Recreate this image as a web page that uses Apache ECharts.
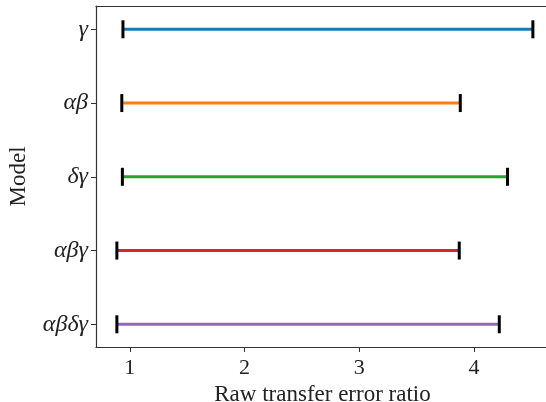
<!DOCTYPE html>
<html>
<head>
<meta charset="utf-8">
<script src="https://cdn.jsdelivr.net/npm/echarts@6/dist/echarts.min.js"></script>
<style>html,body{margin:0;padding:0;background:#fff}#c{width:546px;height:402px}</style>
</head>
<body>
<div id="c"></div>
<script>
const models = ['γ', 'αβ', 'δγ', 'αβγ', 'αβδγ'];
const lowValues = [0.94, 0.93, 0.935, 0.887, 0.887];
const highValues = [4.514, 3.881, 4.293, 3.872, 4.221];
const colors = ['#1f77b4', '#ff7f0e', '#2ca02c', '#d62728', '#9467bd'];
const xTicks = [1, 2, 3, 4];
const yTicks = [0, 1, 2, 3, 4];

const data = models.map((m, i) => [i, lowValues[i], highValues[i]]);
const chart = echarts.init(document.getElementById('c'));
const fontFam = '"Liberation Serif", "DejaVu Serif", serif';
const spine = { show: true, onZero: false, lineStyle: { color: '#333', width: 1.2 } };
chart.setOption({
  animation: false,
  backgroundColor: '#fff',
  grid: { left: 96, top: 6, width: 453, height: 341, containLabel: false, outerBoundsMode: 'none', show: false },
  xAxis: [{
    type: 'value', min: 0.705, max: 4.6545,
    name: 'Raw transfer error ratio', nameLocation: 'middle', nameGap: 36,
    nameTextStyle: { fontFamily: fontFam, fontSize: 23, color: '#222' },
    axisLine: spine,
    axisTick: { show: true, length: 5, lineStyle: { color: '#333' }, customValues: xTicks },
    axisLabel: { customValues: xTicks, fontFamily: fontFam, fontSize: 22, color: '#222', margin: 10 },
    splitLine: { show: false }
  }, {
    type: 'value', position: 'top', min: 0.705, max: 4.6545,
    axisLine: spine, axisTick: { show: false }, axisLabel: { show: false }, splitLine: { show: false }
  }],
  yAxis: {
    type: 'value', min: -0.316, max: 4.308, inverse: true,
    name: 'Model', nameLocation: 'middle', nameGap: 66, nameRotate: 90,
    nameTextStyle: { fontFamily: fontFam, fontSize: 23, color: '#222' },
    axisLine: spine,
    axisTick: { show: true, length: 5, lineStyle: { color: '#333' }, customValues: yTicks },
    axisLabel: {
      customValues: yTicks,
      formatter: v => models[Math.round(v)],
      fontFamily: fontFam, fontStyle: 'italic', fontSize: 24, color: '#222', margin: 8
    },
    splitLine: { show: false }
  },
  series: [{
    type: 'custom',
    data: data,
    encode: { x: [1, 2], y: 0 },
    renderItem: function (params, api) {
      const i = api.value(0);
      const p1 = api.coord([api.value(1), i]);
      const p2 = api.coord([api.value(2), i]);
      const capH = 18, capW = 3;
      return {
        type: 'group',
        children: [
          { type: 'line', shape: { x1: p1[0], y1: p1[1], x2: p2[0], y2: p2[1] }, style: { stroke: colors[i], lineWidth: 3 } },
          { type: 'rect', shape: { x: p1[0] - capW / 2, y: p1[1] - capH / 2, width: capW, height: capH }, style: { fill: '#000' } },
          { type: 'rect', shape: { x: p2[0] - capW / 2, y: p2[1] - capH / 2, width: capW, height: capH }, style: { fill: '#000' } }
        ]
      };
    }
  }]
});
</script>
</body>
</html>
